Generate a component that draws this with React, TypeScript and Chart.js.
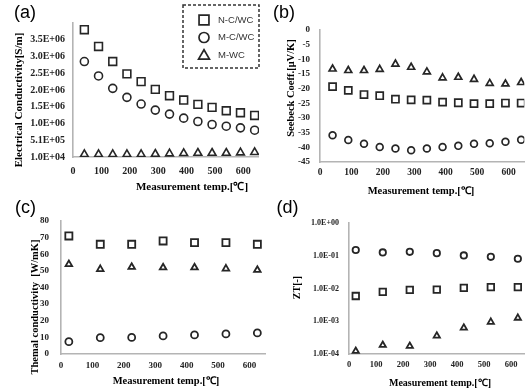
import React, { useEffect, useRef } from 'react';
import { Chart, registerables } from 'chart.js';

Chart.register(...registerables);

// ---------- data ----------
const seriesNames = ['N-C/WC', 'M-C/WC', 'M-WC'];

const tempsAB = [40, 90, 140, 190, 240, 290, 340, 390, 440, 490, 540, 590, 640];
const condNCWC = [3.81e6, 3.31e6, 2.86e6, 2.49e6, 2.26e6, 2.03e6, 1.84e6, 1.71e6, 1.58e6, 1.49e6, 1.39e6, 1.33e6, 1.25e6];
const condMCWC = [2.86e6, 2.43e6, 2.06e6, 1.79e6, 1.59e6, 1.41e6, 1.29e6, 1.17e6, 1.07e6, 0.98e6, 0.93e6, 0.88e6, 0.81e6];
const condMWC = [9e4, 9e4, 9e4, 9e4, 9e4, 1.0e5, 1.1e5, 1.2e5, 1.3e5, 1.3e5, 1.3e5, 1.4e5, 1.5e5];

const seebeckNCWC = [-19.3, -20.6, -22, -22.4, -23.6, -23.8, -23.9, -24.6, -24.8, -25.1, -25.1, -24.9, -24.9];
const seebeckMCWC = [-35.9, -37.5, -38.8, -39.9, -40.4, -41, -40.4, -39.9, -39.5, -38.8, -38.6, -38.1, -37.4];
const seebeckMWC = [-13.3, -13.8, -13.8, -13.4, -11.6, -12.7, -14.3, -16.3, -16.1, -16.8, -18.2, -18.4, -17.9];

const tempsCD = [25, 125, 225, 325, 425, 525, 625];
const thermNCWC = [71, 66, 66, 68, 67, 67, 66];
const thermMCWC = [7.4, 9.8, 10, 10.9, 11.5, 12.1, 12.7];
const thermMWC = [54, 51, 52.3, 52, 52, 51.3, 50.5];

const ztNCWC = [0.0059, 0.0079, 0.0091, 0.0093, 0.0105, 0.011, 0.011];
const ztMCWC = [0.15, 0.126, 0.132, 0.12, 0.102, 0.093, 0.081];
const ztMWC = [1.23e-4, 1.86e-4, 1.74e-4, 3.6e-4, 6.3e-4, 9.5e-4, 1.26e-3];

const xTickValues = [0, 100, 200, 300, 400, 500, 600];
const condTickValues = [1e4, 5.1e5, 1.01e6, 1.51e6, 2.01e6, 2.51e6, 3.01e6, 3.51e6];
const condTickLabels = ['1.0E+04', '5.1E+05', '1.0E+06', '1.5E+06', '2.0E+06', '2.5E+06', '3.0E+06', '3.5E+06'];
const seebeckTickValues = [0, -5, -10, -15, -20, -25, -30, -35, -40, -45];
const thermTickValues = [0, 10, 20, 30, 40, 50, 60, 70, 80];
const ztTickValues = [1, 0.1, 0.01, 0.001, 0.0001];
const ztTickLabels = ['1.0E+00', '1.0E-01', '1.0E-02', '1.0E-03', '1.0E-04'];

// ---------- styles ----------
const SERIF = 'Liberation Serif';
const SANS = 'Liberation Sans';
const AXIS = '#b4b4b4';
const INK = '#262626';
const TICK = '#222';
const styles = ['rect', 'circle', 'triangle'];

type Txt = { text: string; x: number; y: number; rot?: boolean; font: string };

const textPlugin = (items: Txt[]) => ({
  id: 'texts',
  afterDraw(chart: any) {
    const ctx = chart.ctx as CanvasRenderingContext2D;
    items.forEach((t) => {
      ctx.save();
      ctx.fillStyle = '#000';
      ctx.font = t.font;
      ctx.textAlign = 'center';
      ctx.textBaseline = 'middle';
      ctx.translate(t.x, t.y);
      if (t.rot) ctx.rotate(-Math.PI / 2);
      ctx.fillText(t.text, 0, 0);
      ctx.restore();
    });
  },
});

function drawMarker(ctx: CanvasRenderingContext2D, style: string, x: number, y: number, r: number) {
  ctx.beginPath();
  if (style === 'rect') {
    const s = Math.SQRT1_2 * r;
    ctx.rect(x - s, y - s, 2 * s, 2 * s);
  } else if (style === 'circle') {
    ctx.arc(x, y, r, 0, Math.PI * 2);
  } else {
    for (let k = 0; k < 3; k++) {
      const a = (k * 2 * Math.PI) / 3;
      const px = x + Math.sin(a) * r;
      const py = y - Math.cos(a) * r;
      if (k === 0) ctx.moveTo(px, py);
      else ctx.lineTo(px, py);
    }
    ctx.closePath();
  }
  ctx.stroke();
}

const legendPlugin = {
  id: 'dashLegend',
  afterDraw(chart: any) {
    const ctx = chart.ctx as CanvasRenderingContext2D;
    ctx.save();
    ctx.strokeStyle = '#333';
    ctx.lineWidth = 1.5;
    ctx.setLineDash([3, 2]);
    ctx.strokeRect(183, 5, 76, 63);
    ctx.setLineDash([]);
    const rows = [20, 37.5, 55];
    const radii = [7, 5, 6.3];
    chart.data.datasets.forEach((ds: any, i: number) => {
      ctx.strokeStyle = INK;
      ctx.lineWidth = 1.7;
      drawMarker(ctx, styles[i], 204, rows[i] + (i === 2 ? 1 : 0), radii[i]);
      ctx.fillStyle = '#333';
      ctx.font = `9.5px ${SANS}`;
      ctx.textAlign = 'left';
      ctx.textBaseline = 'middle';
      ctx.fillText(ds.label, 218, rows[i]);
    });
    ctx.restore();
  },
};

function datasets(xs: number[], ys: number[][], radii: number[], bw: number) {
  return ys.map((arr, i) => ({
    label: seriesNames[i],
    data: xs.map((x, j) => ({ x, y: arr[j] })),
    pointStyle: styles[i],
    pointRadius: radii[i],
    pointBorderColor: INK,
    pointBackgroundColor: 'rgba(255,255,255,0)',
    pointBorderWidth: bw,
    showLine: false,
  }));
}

function xScale(max: number, size: number, pad: number, h: number) {
  return {
    type: 'linear',
    min: 0,
    max,
    grid: { display: false, drawTicks: false },
    border: { color: AXIS, width: 1.6 },
    afterBuildTicks: (s: any) => {
      s.ticks = xTickValues.map((v) => ({ value: v }));
    },
    afterFit: (s: any) => {
      s.height = h;
    },
    ticks: {
      font: { family: SERIF, size, weight: 'bold' },
      color: TICK,
      padding: pad,
      autoSkip: false,
      maxRotation: 0,
      callback: (v: any) => String(v),
    },
  };
}

function yScale(opts: any, values: number[], labels: string[] | null, size: number, pad: number, w: number) {
  return {
    ...opts,
    grid: { display: false, drawTicks: false },
    border: { color: AXIS, width: 1.6 },
    afterBuildTicks: (s: any) => {
      s.ticks = values.map((v) => ({ value: v }));
    },
    afterFit: (s: any) => {
      s.width = w;
    },
    ticks: {
      font: { family: SERIF, size, weight: 'bold' },
      color: TICK,
      padding: pad,
      autoSkip: false,
      callback: (v: any, i: number) => (labels ? labels[i] : String(v)),
    },
  };
}

function baseConfig(ds: any[], scales: any, padding: any, plugins: any[]) {
  return {
    type: 'scatter',
    data: { datasets: ds },
    options: {
      responsive: false,
      animation: false,
      devicePixelRatio: 1,
      layout: { padding },
      plugins: { legend: { display: false }, tooltip: { enabled: false } },
      scales,
    },
    plugins,
  } as any;
}

const titleFont = (s: number) => `bold ${s}px ${SERIF}`;
const panelFont = `18px ${SANS}`;
const xTitle = 'Measurement temp.[℃]';

const panels = [
  {
    left: 0,
    top: 0,
    width: 266,
    height: 200,
    build: () =>
      baseConfig(
        datasets(tempsAB, [condNCWC, condMCWC, condMWC], [5.5, 4, 4.5], 1.6),
        {
          x: xScale(655, 10, 8, 20),
          y: yScale({ type: 'linear', min: 1e4, max: 4.01e6 }, condTickValues, condTickLabels, 10, 8, 50),
        },
        { left: 23, right: 4, top: 23, bottom: 23 },
        [
          textPlugin([
            { text: '(a)', x: 25, y: 13.5, font: panelFont },
            { text: 'Electrical Conductivity[S/m]', x: 19, y: 100, rot: true, font: titleFont(11) },
            { text: xTitle, x: 192, y: 187, font: titleFont(11) },
          ]),
          legendPlugin,
        ]
      ),
  },
  {
    left: 262,
    top: 0,
    width: 269,
    height: 200,
    build: () =>
      baseConfig(
        datasets(tempsAB, [seebeckNCWC, seebeckMCWC, seebeckMWC], [5, 3.4, 4], 1.7),
        {
          x: xScale(650, 9.5, 5, 20),
          y: yScale({ type: 'linear', min: -45, max: 0 }, seebeckTickValues, null, 9, 10, 40),
        },
        { left: 18, right: 2, top: 30, bottom: 18 },
        [
          textPlugin([
            { text: '(b)', x: 22, y: 13.5, font: panelFont },
            { text: 'Seebeck Coeff.[μV/K]', x: 29, y: 88, rot: true, font: titleFont(10.5) },
            { text: xTitle, x: 159, y: 191, font: titleFont(10.5) },
          ]),
        ]
      ),
  },
  {
    left: 0,
    top: 195,
    width: 272,
    height: 194,
    build: () =>
      baseConfig(
        datasets(tempsCD, [thermNCWC, thermMCWC, thermMWC], [5, 3.5, 3.8], 1.8),
        {
          x: xScale(650, 9, 6, 20),
          y: yScale({ type: 'linear', min: 0, max: 80 }, thermTickValues, null, 9, 12, 40),
        },
        { left: 21, right: 2, top: 26, bottom: 15 },
        [
          textPlugin([
            { text: '(c)', x: 25.5, y: 13.5, font: panelFont },
            { text: 'Themal conductivity  [W/mK]', x: 35, y: 112, rot: true, font: titleFont(10.5) },
            { text: xTitle, x: 166, y: 186, font: titleFont(10.5) },
          ]),
        ]
      ),
  },
  {
    left: 262,
    top: 195,
    width: 269,
    height: 194,
    build: () =>
      baseConfig(
        datasets(tempsCD, [ztNCWC, ztMCWC, ztMWC], [4.6, 3.2, 3.6], 1.8),
        {
          x: xScale(650, 8.5, 6, 20),
          y: yScale({ type: 'logarithmic', min: 1e-4, max: 1 }, ztTickValues, ztTickLabels, 8, 10, 40),
        },
        { left: 47, right: 0, top: 28, bottom: 15 },
        [
          textPlugin([
            { text: '(d)', x: 25.5, y: 13.5, font: panelFont },
            { text: 'ZT[-]', x: 35, y: 92.5, rot: true, font: titleFont(10) },
            { text: xTitle, x: 178, y: 188, font: titleFont(10) },
          ]),
        ]
      ),
  },
];

function Panel(p: { left: number; top: number; width: number; height: number; build: () => any }) {
  const ref = useRef<HTMLCanvasElement>(null);
  useEffect(() => {
    const chart = new Chart(ref.current as HTMLCanvasElement, p.build());
    return () => chart.destroy();
  }, []);
  return (
    <canvas
      ref={ref}
      width={p.width}
      height={p.height}
      style={{ position: 'absolute', left: p.left, top: p.top, width: p.width, height: p.height }}
    />
  );
}

export default function App() {
  useEffect(() => {
    document.body.style.margin = '0';
  }, []);
  return (
    <div style={{ position: 'relative', width: 531, height: 389, background: '#fff', overflow: 'hidden' }}>
      {panels.map((p, i) => (
        <Panel key={i} {...p} />
      ))}
    </div>
  );
}
